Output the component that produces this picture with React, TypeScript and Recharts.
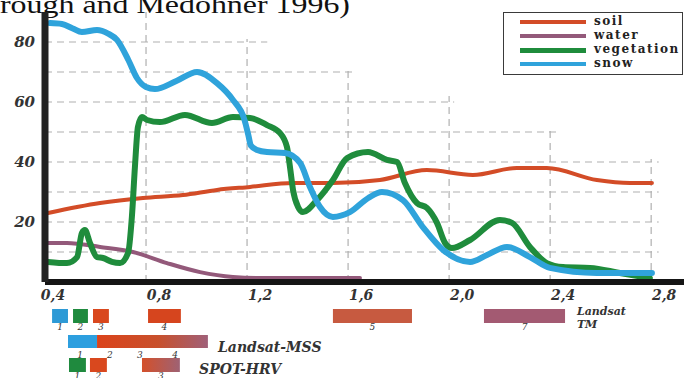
import React from 'react';
import { LineChart, Line, XAxis, YAxis, ReferenceLine, ReferenceArea, ReferenceDot, Legend } from 'recharts';

type Pt = [number, number];

const wavelengthTicks = [0.4, 0.8, 1.2, 1.6, 2.0, 2.4, 2.8];
const reflectanceTicks = [20, 40, 60, 80];

const soil: Pt[] = [
  [0.412, 23], [0.618, 26.3], [0.788, 28], [0.946, 29], [1.081, 30.7], [1.212, 31.7],
  [1.382, 33], [1.54, 33], [1.726, 34], [1.912, 37.3], [2.094, 35.7], [2.268, 38],
  [2.387, 38], [2.585, 34], [2.716, 33], [2.803, 33],
];

const water: Pt[] = [
  [0.412, 13], [0.487, 13], [0.618, 11.7], [0.748, 10], [0.883, 6.3], [1.014, 3.3],
  [1.144, 1.7], [1.279, 1.3], [1.647, 1.3],
];

const vegetation: Pt[] = [
  [0.412, 6.7], [0.487, 6.3], [0.527, 8.3], [0.546, 16.3], [0.558, 17.3], [0.578, 13],
  [0.606, 8.3], [0.63, 8], [0.665, 6.7], [0.697, 6.3], [0.729, 9.7], [0.744, 21.7],
  [0.756, 38.3], [0.768, 51.7], [0.784, 55], [0.804, 54], [0.855, 53.3], [0.954, 55.7],
  [1.061, 53], [1.144, 55], [1.212, 54.7], [1.279, 52.3], [1.33, 49.7], [1.358, 45],
  [1.37, 38.3], [1.382, 30.7], [1.402, 25], [1.421, 23.3], [1.477, 27.3], [1.54, 34],
  [1.596, 41.3], [1.679, 43.3], [1.754, 40.7], [1.794, 40], [1.825, 33], [1.873, 26.3],
  [1.912, 24.7], [1.952, 19.7], [1.984, 13], [2.011, 11.3], [2.083, 14], [2.201, 20.7],
  [2.249, 19.7], [2.32, 11.7], [2.387, 6.3], [2.451, 5], [2.558, 4.7], [2.676, 3],
  [2.795, 1.3],
];

const snow: Pt[] = [
  [0.42, 86.3], [0.467, 86], [0.51, 84.5], [0.546, 83.3], [0.606, 84], [0.65, 82.8],
  [0.685, 80.7], [0.73, 74], [0.764, 68], [0.8, 65], [0.835, 64.3], [0.92, 67],
  [1.002, 70], [1.081, 66.3], [1.144, 60.7], [1.19, 54], [1.205, 49], [1.215, 45.5],
  [1.24, 44], [1.279, 43.3], [1.35, 43], [1.41, 39.7], [1.449, 31.7], [1.489, 25],
  [1.54, 21.7], [1.607, 23.3], [1.68, 28], [1.734, 30], [1.817, 27.3], [1.896, 18.3],
  [1.976, 10.7], [2.083, 6.7], [2.15, 9], [2.229, 11.7], [2.32, 8.3], [2.399, 4.7],
  [2.585, 3], [2.803, 3],
];

const series = [
  { name: 'water', color: '#93597a', width: 4, data: water },
  { name: 'soil', color: '#d34c27', width: 4, data: soil },
  { name: 'vegetation', color: '#1f8c3c', width: 6, data: vegetation },
  { name: 'snow', color: '#2fa3db', width: 6, data: snow },
];
const legendOrder = ['soil', 'water', 'vegetation', 'snow'];

const hGrid = [
  { y: 10, to: 2.83 }, { y: 20, to: 2.83 }, { y: 30, to: 2.83 }, { y: 40, to: 2.83 },
  { y: 50, to: 2.43 }, { y: 60, to: 2.02 }, { y: 70, to: 1.62 }, { y: 80, to: 1.28 },
];
const vGrid = [
  { x: 0.8, to: 90 }, { x: 1.2, to: 81 }, { x: 1.6, to: 72 },
  { x: 2.0, to: 62 }, { x: 2.4, to: 51 }, { x: 2.8, to: 41 },
];

const tmBands = [
  { band: '1', from: 0.428, to: 0.491, color: '#2d9ad6' },
  { band: '2', from: 0.511, to: 0.57, color: '#1f8a3e' },
  { band: '3', from: 0.59, to: 0.653, color: '#d9481e' },
  { band: '4', from: 0.808, to: 0.938, color: '#d6451e' },
  { band: '5', from: 1.54, to: 1.853, color: '#c75a40' },
  { band: '7', from: 2.138, to: 2.459, color: '#a35a72' },
];
const mssBands = [
  { from: 0.491, to: 0.606, color: '#2d9fdf' },
  { from: 0.606, to: 1.045, color: 'url(#mssGrad)' },
];
const mssNumbers = [
  { band: '1', at: 0.539 }, { band: '2', at: 0.657 }, { band: '3', at: 0.776 }, { band: '4', at: 0.915 },
];
const spotBands = [
  { band: '1', from: 0.495, to: 0.562, color: '#1f8a3e' },
  { band: '2', from: 0.578, to: 0.645, color: '#d9481e' },
  { band: '3', from: 0.784, to: 0.934, color: 'url(#spotGrad)' },
];

const ROW_TM: [number, number] = [-13.67, -9];
const ROW_MSS: [number, number] = [-22, -17.67];
const ROW_SPOT: [number, number] = [-30, -25.33];

const tickFont = { fontFamily: 'DejaVu Serif', fontWeight: 700, fontStyle: 'italic' as const };

const fmt = (v: number) => v.toFixed(1).replace('.', ',');

const XTick = (props: any) => {
  const { x, y, payload } = props;
  const dx = payload.value === 0.4 ? 8 : 13;
  return (
    <text x={x + dx} y={y + 18} textAnchor="middle" fontSize={14} fill="#333" style={tickFont}>
      {fmt(payload.value)}
    </text>
  );
};

const YTick = (props: any) => {
  const { x, y, payload } = props;
  return (
    <text x={x - 10} y={y + 5} textAnchor="end" fontSize={15} fill="#333" style={tickFont}>
      {payload.value}
    </text>
  );
};

const LegendBox = () => (
  <div style={{ boxSizing: 'border-box', width: 180, height: 63, border: '1.5px solid #3a3a3a', background: '#fff', position: 'relative' }}>
    {legendOrder.map((n, i) => {
      const s = series.find((q) => q.name === n)!;
      const cy = 9 + 14 * i;
      return (
        <React.Fragment key={n}>
          <div style={{ position: 'absolute', left: 16, top: cy - 2, width: 66, height: n === 'vegetation' ? 5 : 4, background: s.color }} />
          <div style={{ position: 'absolute', left: 90, top: cy - 7, fontFamily: 'DejaVu Serif', fontWeight: 700, fontSize: 12, letterSpacing: 1.5, lineHeight: '13px', color: '#222', whiteSpace: 'nowrap' }}>
            {n}
          </div>
        </React.Fragment>
      );
    })}
  </div>
);

const numLabel = (value: string, pos: any = 'bottom', offset = 1) => ({
  value,
  position: pos,
  offset,
  fontSize: 9,
  fill: '#333',
  style: { fontFamily: 'DejaVu Serif', fontStyle: 'italic' },
});

const nameLabel = (value: string, size = 14) => ({
  value,
  position: 'right' as const,
  offset: 0,
  fontSize: size,
  fill: '#333',
  style: { fontFamily: 'DejaVu Serif', fontWeight: 700, fontStyle: 'italic' },
});

export default function App() {
  return (
    <div style={{ position: 'absolute', left: 0, top: 0, width: 684, height: 378, background: '#fff', overflow: 'hidden' }}>
      <svg width={0} height={0} style={{ position: 'absolute' }}>
        <defs>
          <linearGradient id="mssGrad" x1="0" x2="1" y1="0" y2="0">
            <stop offset="0" stopColor="#db431b" />
            <stop offset="0.55" stopColor="#c8502c" />
            <stop offset="1" stopColor="#a06079" />
          </linearGradient>
          <linearGradient id="spotGrad" x1="0" x2="1" y1="0" y2="0">
            <stop offset="0" stopColor="#d4502a" />
            <stop offset="1" stopColor="#9e6274" />
          </linearGradient>
        </defs>
      </svg>
      <svg width={684} height={30} style={{ position: 'absolute', left: 0, top: 0 }}>
        <text x={0} y={13} fontSize={26} fill="#111" textLength={350} lengthAdjust="spacingAndGlyphs" style={{ fontFamily: 'Liberation Serif' }}>
          rough and Medohner 1996)
        </text>
      </svg>
      <LineChart width={684} height={378} margin={{ top: 12, right: 0, bottom: 66, left: 0 }}>
        <XAxis
          type="number"
          dataKey="x"
          domain={[0.4, 2.93]}
          ticks={wavelengthTicks}
          allowDataOverflow
          height={30}
          tickSize={0}
          tickMargin={0}
          tickLine={false}
          tick={<XTick />}
          axisLine={{ stroke: '#151515', strokeWidth: 6 }}
        />
        <YAxis
          type="number"
          dataKey="y"
          domain={[0, 90]}
          ticks={reflectanceTicks}
          allowDataOverflow
          width={45}
          tickSize={0}
          tickMargin={0}
          tickLine={false}
          tick={<YTick />}
          axisLine={{ stroke: '#222', strokeWidth: 7 }}
        />
        {hGrid.map((g) => (
          <ReferenceLine key={'h' + g.y} segment={[{ x: 0.4, y: g.y }, { x: g.to, y: g.y }]} stroke="#b0b0b0" strokeWidth={1.2} strokeDasharray="7 5" ifOverflow="visible" />
        ))}
        {vGrid.map((g) => (
          <ReferenceLine key={'v' + g.x} segment={[{ x: g.x, y: 0 }, { x: g.x, y: g.to }]} stroke="#b0b0b0" strokeWidth={1.2} strokeDasharray="7 5" ifOverflow="visible" />
        ))}
        {tmBands.map((b) => (
          <ReferenceArea key={'tm' + b.band} x1={b.from} x2={b.to} y1={ROW_TM[0]} y2={ROW_TM[1]} fill={b.color} fillOpacity={1} stroke="none" ifOverflow="visible" label={numLabel(b.band)} />
        ))}
        {mssBands.map((b, i) => (
          <ReferenceArea key={'mss' + i} x1={b.from} x2={b.to} y1={ROW_MSS[0]} y2={ROW_MSS[1]} fill={b.color} fillOpacity={1} stroke="none" ifOverflow="visible" />
        ))}
        {mssNumbers.map((n) => (
          <ReferenceDot key={'mn' + n.band} x={n.at} y={-24.3} r={0} stroke="none" fill="none" ifOverflow="visible" label={numLabel(n.band, 'center', 0)} />
        ))}
        {spotBands.map((b) => (
          <ReferenceArea key={'sp' + b.band} x1={b.from} x2={b.to} y1={ROW_SPOT[0]} y2={ROW_SPOT[1]} fill={b.color} fillOpacity={1} stroke="none" ifOverflow="visible" label={numLabel(b.band)} />
        ))}
        <ReferenceDot x={2.506} y={-9.8} r={0} stroke="none" fill="none" ifOverflow="visible" label={nameLabel('Landsat', 11)} />
        <ReferenceDot x={2.506} y={-14} r={0} stroke="none" fill="none" ifOverflow="visible" label={nameLabel('TM', 11)} />
        <ReferenceDot x={1.085} y={-21.7} r={0} stroke="none" fill="none" ifOverflow="visible" label={nameLabel('Landsat-MSS', 14)} />
        <ReferenceDot x={1.01} y={-29} r={0} stroke="none" fill="none" ifOverflow="visible" label={nameLabel('SPOT-HRV', 14)} />
        {series.map((s) => (
          <Line
            key={s.name}
            name={s.name}
            data={s.data.map(([x, y]) => ({ x, y }))}
            dataKey="y"
            type="monotone"
            stroke={s.color}
            strokeWidth={s.width}
            dot={false}
            activeDot={false}
            isAnimationActive={false}
            strokeLinecap="round"
            strokeLinejoin="round"
          />
        ))}
        <Legend
          layout="vertical"
          align="center"
          verticalAlign="middle"
          content={() => <LegendBox />}
          wrapperStyle={{ left: 503, top: 12, width: 180, height: 63 }}
        />
      </LineChart>
    </div>
  );
}
